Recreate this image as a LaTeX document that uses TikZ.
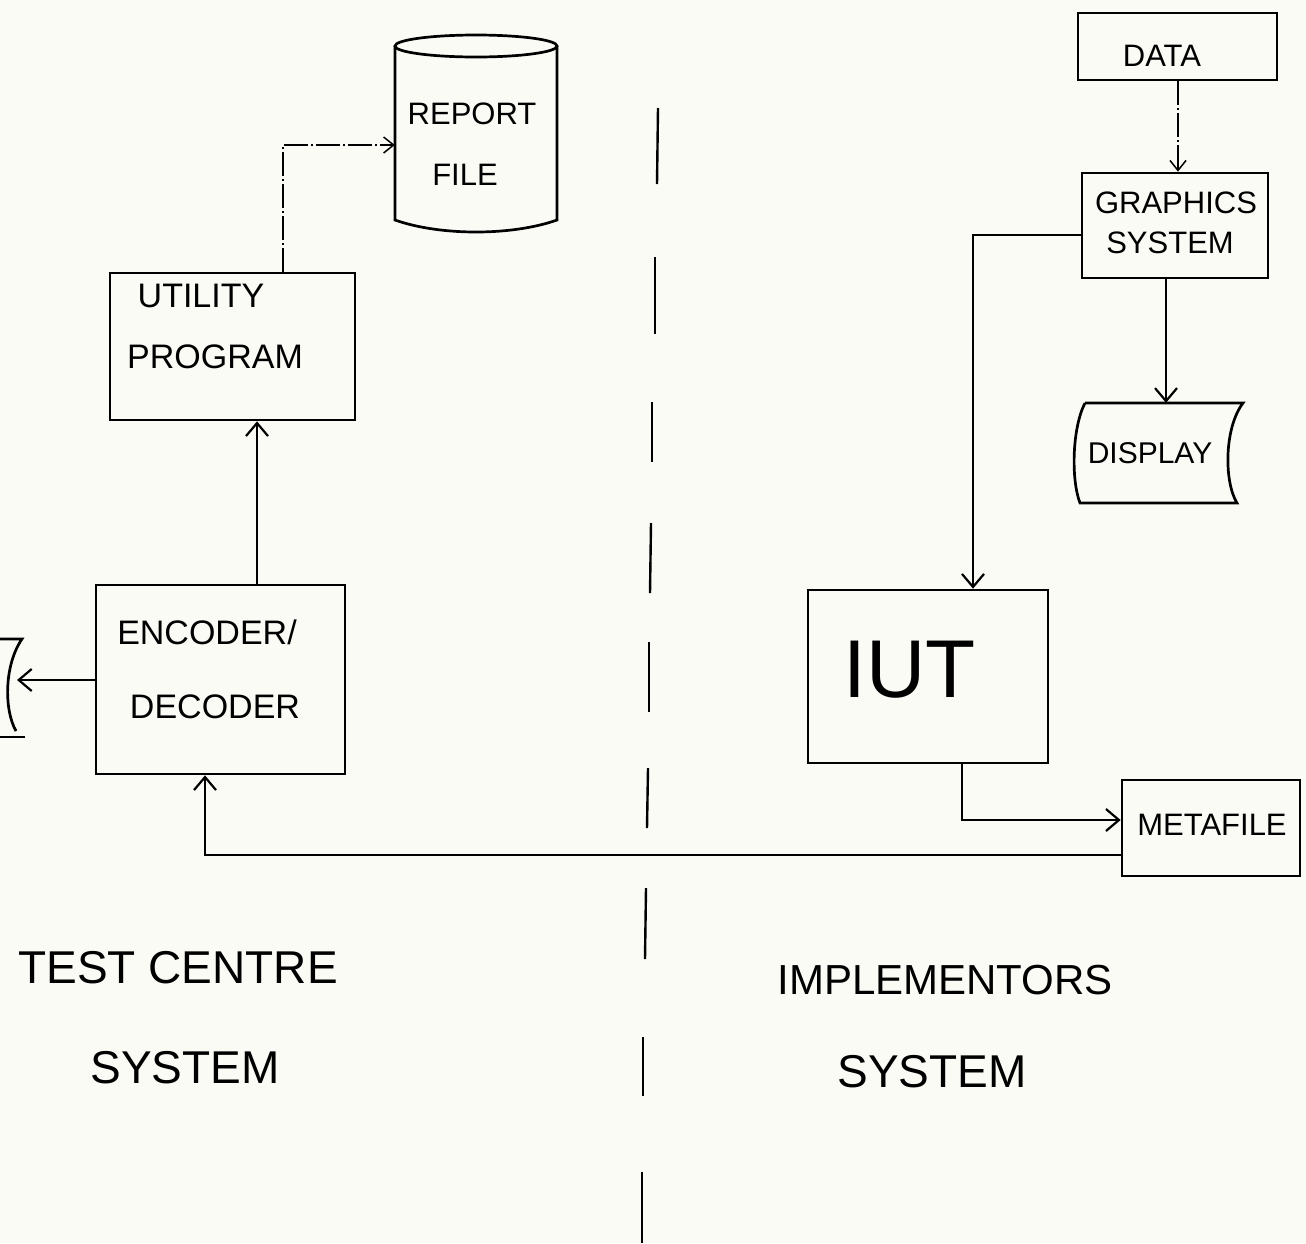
\documentclass[tikz,border=0pt]{standalone}
\usepackage{fontspec}
\setmainfont{Liberation Sans}
\usetikzlibrary{arrows.meta}
\definecolor{paper}{RGB}{251,251,246}
\begin{document}
\begin{tikzpicture}[x=1pt,y=-1pt,
  box/.style={draw, line width=2.7pt, inner sep=0pt},
  shp/.style={line width=2.7pt},
  ln/.style={line width=2.4pt},
  faint/.style={line width=1.5pt, dash pattern=on 24pt off 3pt on 2pt off 3pt},
  arr/.style={-{Straight Barb[length=13pt,width=22pt,line width=2.2pt]}},
  farr/.style={-{Straight Barb[length=10pt,width=16pt,line width=1.5pt]}},
  sepdash/.style={line width=2.4pt},
  t/.style={inner sep=0pt, font=\fontsize{34}{40}\selectfont},
  big/.style={inner sep=0pt, font=\fontsize{46}{52}\selectfont}]
\useasboundingbox (0,0) rectangle (1306,1243);
\fill[paper] (0,0) rectangle (1306,1243);

% separator
\foreach \xa/\ya/\xb/\yb in {658/108/657/184, 655/257/655/334, 652/402/652/462,
  651/523/650/593, 649/642/649/712, 648/768/647/828, 646/888/645/959,
  643/1037/643/1096, 642/1172/642/1243}
  \draw[sepdash] (\xa,\ya) -- (\xb,\yb);

% boxes
\node[box, minimum width=245pt, minimum height=147pt] (util) at (232.5,346.5) {};
\node[box, minimum width=249pt, minimum height=189pt] (enc) at (220.5,679.5) {};
\node[box, minimum width=199pt, minimum height=67pt] (data) at (1177.5,46.5) {};
\node[box, minimum width=186pt, minimum height=105pt] (gfx) at (1175,225.5) {};
\node[box, minimum width=240pt, minimum height=173pt] (iut) at (928,676.5) {};
\node[box, minimum width=178pt, minimum height=96pt] (meta) at (1211,828) {};

% report file (cylinder)
\node[minimum width=162pt, minimum height=178pt, inner sep=0pt] (report) at (476,135) {};
\draw[shp] (476,46) ellipse [x radius=81pt, y radius=11pt];
\draw[shp] (395,46) -- (395,220) .. controls (440,236) and (512,236) .. (557,220) -- (557,46);

% display (right)
\node[minimum width=160pt, minimum height=100pt, inner sep=0pt] (disp) at (1160,453) {};
\draw[shp] (1085,403) -- (1243,403) .. controls (1224,428) and (1224,482) .. (1237,503)
  -- (1080,503) .. controls (1071,480) and (1072,428) .. (1085,403);

% display (left, cut off)
\coordinate (ldisp) at (17,680);
\draw[shp] (0,639) -- (22,639) .. controls (4,665) and (4,710) .. (16,731);
\draw[shp] (0,737) -- (25,737);

% texts
\node[t] (utilA) at (201,296) {UTILITY};
\node[t] (utilB) at (215,357) {PROGRAM};
\node[t] (encA) at (207,632) {ENCODER/};
\node[t] (encB) at (215,707) {DECODER};
\node[t, font=\fontsize{31}{36}\selectfont] (dataT) at (1162,56) {DATA};
\node[t, font=\fontsize{31}{36}\selectfont] (gfxA) at (1176,203) {GRAPHICS};
\node[t, font=\fontsize{31}{36}\selectfont] (gfxB) at (1170,243) {SYSTEM};
\node[t, font=\fontsize{31}{36}\selectfont] (repA) at (472,114) {REPORT};
\node[t, font=\fontsize{31}{36}\selectfont] (repB) at (465,175) {FILE};
\node[t, font=\fontsize{30}{36}\selectfont] (dispT) at (1150,453) {DISPLAY};
\node[t, font=\fontsize{31}{36}\selectfont] (metaT) at (1212,825) {METAFILE};
\node[t, font=\fontsize{82}{90}\selectfont] (iutT) at (910,670) {IUT};
\node[big] (tcA) at (178,968) {TEST CENTRE};
\node[big] (tcB) at (185,1068) {SYSTEM};
\node[big, font=\fontsize{42}{50}\selectfont] (imA) at (945,980) {IMPLEMENTORS};
\node[big] (imB) at (932,1072) {SYSTEM};

% connectors
\draw[faint, farr] (util.north -| 283,0) |- (report.west |- 0,145);
\draw[ln, arr] (enc.north -| 257,0) -- (util.south -| 257,0);
\draw[ln, arr] (enc.west |- 0,680) -- (ldisp);
\draw[faint, farr] (data.south -| 1178,0) -- (gfx.north -| 1178,0);
\draw[ln, arr] (gfx.south -| 1166,0) -- (disp.north -| 1166,0);
\draw[ln, arr] (gfx.west |- 0,235) -| (iut.north -| 973,0);
\draw[ln, arr] (iut.south -| 962,0) |- (meta.west |- 0,820);
\draw[ln, arr] (meta.west |- 0,855) -| (enc.south -| 205,0);
\end{tikzpicture}
\end{document}
